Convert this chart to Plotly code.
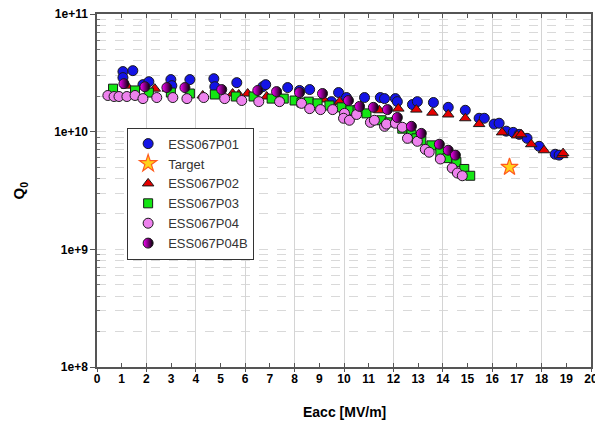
import plotly.graph_objects as go

# ---- data (Eacc in MV/m, Q0) ----
p01_e = [1.05, 1.05, 1.45, 1.86, 2.10, 2.99, 3.03, 3.76, 4.73, 4.77, 5.66, 6.71, 6.83, 7.72,
         8.20, 8.61, 9.49, 9.78, 10.10, 10.83, 11.47, 11.64, 12.08, 12.16, 12.77, 12.97,
         13.62, 14.22, 14.91, 15.47, 15.68, 16.08, 16.28, 16.57, 16.85, 17.09, 17.41,
         17.90, 18.55, 18.71]
p01_q = [3.24e10, 2.88e10, 3.30e10, 2.51e10, 2.66e10, 2.77e10, 2.46e10, 2.77e10, 2.82e10,
         2.41e10, 2.61e10, 2.41e10, 2.51e10, 2.37e10, 2.24e10, 2.28e10, 1.80e10, 2.15e10,
         1.95e10, 1.95e10, 1.95e10, 1.91e10, 1.91e10, 1.80e10, 1.70e10, 1.80e10, 1.77e10,
         1.61e10, 1.52e10, 1.30e10, 1.30e10, 1.16e10, 1.18e10, 1.01e10, 9.86e9, 9.49e9,
         8.78e9, 7.51e9, 6.43e9, 6.32e9]

target_e = [16.7]
target_q = [5.0e9]

p02_e = [1.21, 2.34, 2.87, 4.28, 5.49, 5.74, 6.10, 6.87, 7.43, 9.17, 9.82, 11.43, 12.20,
         12.93, 13.58, 14.22, 14.91, 15.47, 16.40, 17.01, 17.17, 17.58, 18.10, 18.83, 18.87]
p02_q = [2.46e10, 2.32e10, 2.32e10, 2.03e10, 2.11e10, 2.07e10, 2.11e10, 1.99e10, 1.95e10,
         1.88e10, 1.80e10, 1.52e10, 1.57e10, 1.54e10, 1.45e10, 1.40e10, 1.30e10, 1.16e10,
         9.86e9, 9.30e9, 9.49e9, 7.82e9, 6.95e9, 6.32e9, 6.57e9]

p03_e = [0.65, 1.54, 2.10, 2.99, 3.76, 4.77, 5.62, 6.34, 7.07, 7.56, 8.00, 8.28, 8.57, 8.93,
         9.41, 9.90, 10.26, 10.55, 10.91, 11.52, 11.84, 12.12, 12.36, 12.73, 12.93, 13.13,
         13.54, 13.90, 14.18, 14.55, 14.87, 15.11]
p03_q = [2.32e10, 2.24e10, 2.15e10, 2.15e10, 2.11e10, 2.07e10, 1.99e10, 1.99e10, 1.91e10,
         1.91e10, 1.84e10, 1.77e10, 1.80e10, 1.74e10, 1.67e10, 1.61e10, 1.52e10, 1.52e10,
         1.43e10, 1.25e10, 1.20e10, 1.22e10, 1.06e10, 9.49e9, 8.78e9, 8.44e9, 7.65e9,
         6.69e9, 5.96e9, 5.51e9, 4.82e9, 4.22e9]

p04_e = [0.44, 0.69, 0.89, 1.21, 1.54, 1.86, 2.42, 3.07, 3.64, 4.32, 5.17, 5.86, 6.55, 7.39,
         8.28, 8.61, 9.05, 9.54, 10.02, 9.98, 10.22, 10.51, 11.07, 11.23, 11.64, 11.72,
         12.08, 12.36, 12.57, 12.97, 13.29, 13.45, 13.90, 14.38, 14.59, 14.79]
p04_q = [2.03e10, 1.99e10, 1.99e10, 1.99e10, 2.03e10, 1.91e10, 1.95e10, 1.95e10, 1.91e10,
         1.95e10, 1.91e10, 1.84e10, 1.80e10, 1.80e10, 1.74e10, 1.57e10, 1.54e10, 1.54e10,
         1.43e10, 1.30e10, 1.25e10, 1.40e10, 1.20e10, 1.25e10, 1.11e10, 1.16e10, 1.18e10,
         1.09e10, 8.78e9, 8.28e9, 7.08e9, 6.69e9, 5.86e9, 4.91e9, 4.45e9, 4.22e9]

p04b_e = [1.09, 1.94, 2.83, 3.56, 5.05, 6.51, 7.27, 8.20, 9.13, 10.18, 10.63, 11.19, 11.76,
          12.16, 12.73, 13.13, 13.86, 14.22, 14.51]
p04b_q = [2.56e10, 2.41e10, 2.37e10, 2.37e10, 2.28e10, 2.24e10, 2.19e10, 2.15e10, 2.11e10,
          1.84e10, 1.64e10, 1.61e10, 1.54e10, 1.32e10, 1.11e10, 9.67e9, 7.82e9, 6.95e9, 6.32e9]

x_ticks = list(range(0, 21))
y_ticks = [1e8, 1e9, 1e10, 1e11]
y_tick_text = ["1e+8", "1e+9", "1e+10", "1e+11"]
y_minor = [m * 10 ** d for d in (8, 9, 10) for m in range(2, 10)]

FONT = "Liberation Sans, Arial, sans-serif"
OUT = dict(color="#1a1a1a", width=1)

fig = go.Figure()
fig.add_trace(go.Scatter(x=p01_e, y=p01_q, mode="markers", name="ESS067P01",
                         marker=dict(symbol="circle", size=10, color="#1414e6", line=OUT)))
fig.add_trace(go.Scatter(x=target_e, y=target_q, mode="markers", name="Target",
                         marker=dict(symbol="star", size=13, color="#ffd21a",
                                     line=dict(color="#ff5a1e", width=1.2))))
fig.add_trace(go.Scatter(x=p02_e, y=p02_q, mode="markers", name="ESS067P02",
                         marker=dict(symbol="triangle-up", size=10, color="#e60000", line=OUT)))
fig.add_trace(go.Scatter(x=p03_e, y=p03_q, mode="markers", name="ESS067P03",
                         marker=dict(symbol="square", size=9, color="#14e614", line=OUT)))
fig.add_trace(go.Scatter(x=p04_e, y=p04_q, mode="markers", name="ESS067P04",
                         marker=dict(symbol="circle", size=10, color="#ee82ee", line=OUT)))
fig.add_trace(go.Scatter(x=p04b_e, y=p04b_q, mode="markers", name="ESS067P04B",
                         marker=dict(symbol="circle", size=10, color="#ff00ff",
                                     gradient=dict(type="horizontal", color="#000000"),
                                     line=OUT)))
# helper axis for the every-2 vertical grid
fig.add_trace(go.Scatter(x=[], y=[], xaxis="x2", showlegend=False, hoverinfo="skip"))

# the page body adds an 8 px offset, so the figure is 8 px smaller than the window
fig.update_layout(
    width=595, height=420,
    margin=dict(l=89, r=12, t=6, b=61),
    paper_bgcolor="white", plot_bgcolor="white",
    font=dict(family=FONT, color="#000"),
    showlegend=True,
    legend=dict(x=0.061, y=0.678, xanchor="left", yanchor="top",
                bgcolor="white", bordercolor="#333", borderwidth=1,
                font=dict(family=FONT, size=13, color="#333"),
                tracegroupgap=0, itemwidth=30),
    xaxis=dict(range=[0, 20], tickmode="array", tickvals=x_ticks, automargin=False,
               ticks="inside", ticklen=4, tickcolor="#555", ticklabeloverflow="allow",
               showgrid=False, zeroline=False,
               showline=True, linecolor="#555", linewidth=1.5, mirror="ticks",
               tickfont=dict(family=FONT, size=12, weight="bold")),
    xaxis2=dict(range=[0, 20], overlaying="x", anchor="y", dtick=2, tick0=0, automargin=False,
                showticklabels=False, ticks="outside", ticklen=4, tickcolor="#555",
                showgrid=True, gridcolor="#d4d4d4", gridwidth=1,
                showline=False, zeroline=False),
    yaxis=dict(type="log", range=[8, 11], tickmode="array", tickvals=y_ticks, automargin=False,
               ticktext=y_tick_text, ticks="outside", ticklen=5, tickcolor="#555",
               ticklabeloverflow="allow",
               showgrid=True, gridcolor="#d9d9d9", griddash="dash", gridwidth=1,
               minor=dict(tickmode="array", tickvals=y_minor, ticks="inside", ticklen=3,
                          tickcolor="#777", showgrid=True, gridcolor="#d9d9d9",
                          griddash="dash", gridwidth=1),
               zeroline=False, showline=True, linecolor="#555", linewidth=1.5, mirror=True,
               tickfont=dict(family=FONT, size=12, weight="bold")),
    annotations=[
        dict(text="<b>Eacc [MV/m]</b>", xref="paper", yref="paper", x=0.5, y=-0.127,
             xanchor="center", yanchor="middle", showarrow=False,
             font=dict(family=FONT, size=14, color="#000")),
        dict(text="<b>Q<sub>0</sub></b>", xref="paper", yref="paper", x=-0.156, y=0.5,
             xanchor="center", yanchor="middle", showarrow=False, textangle=-90,
             font=dict(family=FONT, size=15, color="#000")),
    ],
)

fig.write_html("out.html")
